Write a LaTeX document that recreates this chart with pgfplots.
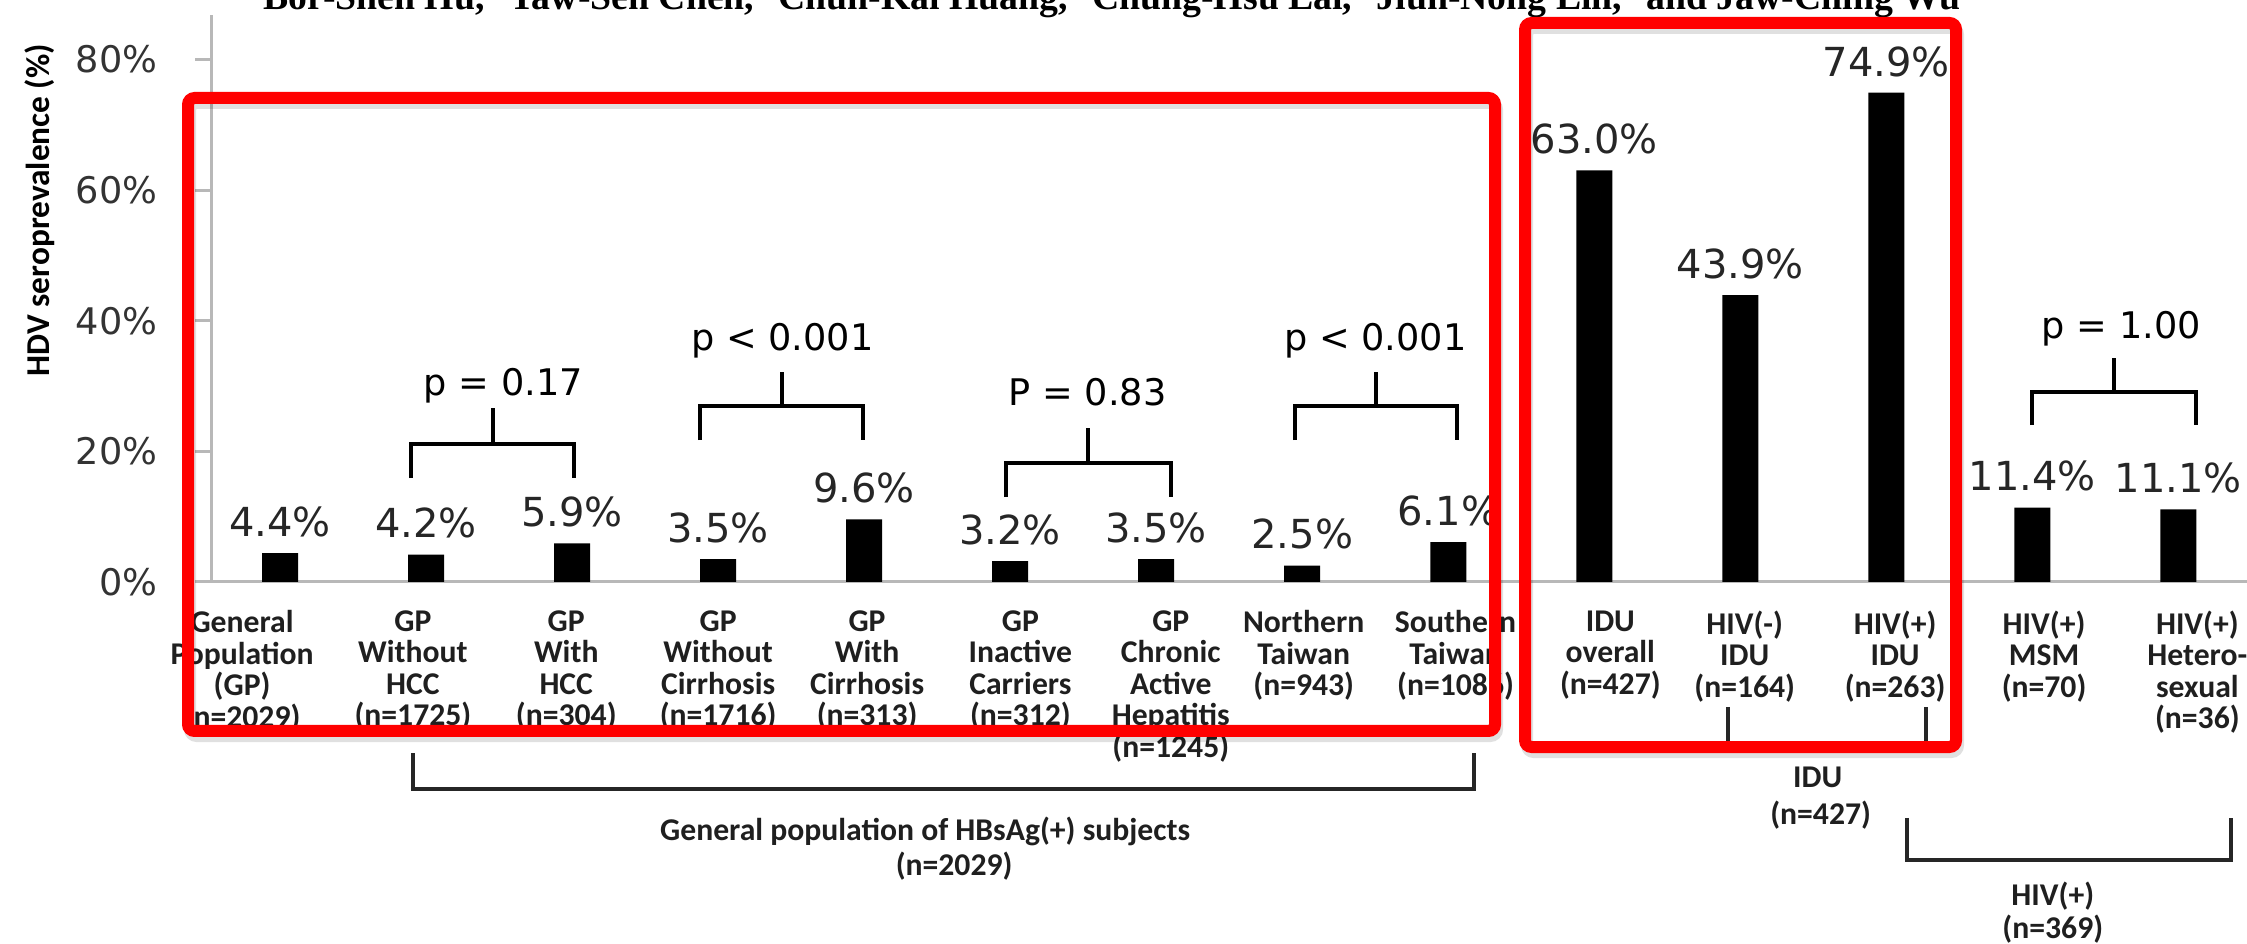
\documentclass[border=0pt]{standalone}
\usepackage{graphicx}
\usepackage{pgfplots}
\pgfplotsset{compat=1.18}
\usepackage{fontspec}
\setmainfont{Carlito}
\newfontfamily\dejavu{DejaVu Sans}
\newfontfamily\serif{Liberation Serif}

\newcommand\catfont{\fontsize{9.5}{9.45}\selectfont\bfseries}
\newcommand\valfont{\dejavu\fontsize{12}{14}\selectfont}
\newcommand\pfont{\dejavu\fontsize{11}{13}\selectfont}
\newcommand\tickfont{\dejavu\fontsize{11}{13}\selectfont}

\begin{document}
\begin{tikzpicture}
% author line running off the top edge
\begin{scope}
\clip (0pt,0pt) rectangle (674.1pt,283.2pt);
\node[anchor=base west, inner sep=0pt] at (78.9pt,280.2pt)
  {\resizebox{509pt}{!}{\serif\bfseries\fontsize{11}{13}\selectfont
   Bor-Shen Hu,\textsuperscript{1}\ Yaw-Sen Chen,\textsuperscript{2}\ Chun-Kai Huang,\textsuperscript{3}\ Chung-Hsu Lai,\textsuperscript{4}\ Jiun-Nong Lin,\textsuperscript{5}\ and Jaw-Ching Wu}};
\end{scope}

\begin{axis}[
  at={(63.6pt,108.6pt)}, anchor=south west,
  scale only axis, width=610.5pt, height=170.1pt,
  xmin=-0.466, xmax=13.47, ymin=0, ymax=86.8,
  ybar, bar width=10.8pt,
  axis x line*=bottom, axis y line*=left,
  axis line style={draw=black!28, line width=0.9pt},
  tick align=outside, major tick length=5pt,
  tick style={draw=black!28, line width=0.9pt},
  /pgf/number format/assume math mode=true,
  ytick={0,20,40,60,80},
  yticklabel={\pgfmathprintnumber{\tick}\%},
  yticklabel style={font=\tickfont, text=black!80, inner sep=0pt, xshift=-11.2pt},
  xtick={-0.26,0.91,1.96,3.0,4.02,5.07,6.10,7.01,8.05,9.11,10.03,11.06,12.08,13.13},
  xtick style={draw=none},
  xticklabels={
    {General\\Population\\(GP)\\(n=2029)},
    {GP\\Without\\HCC\\(n=1725)},
    {GP\\With\\HCC\\(n=304)},
    {GP\\Without\\Cirrhosis\\(n=1716)},
    {GP\\With\\Cirrhosis\\(n=313)},
    {GP\\Inactive\\Carriers\\(n=312)},
    {GP\\Chronic\\Active\\Hepatitis\\(n=1245)},
    {Northern\\Taiwan\\(n=943)},
    {Southern\\Taiwan\\(n=1086)},
    {IDU\\overall\\(n=427)},
    {HIV(-)\\IDU\\(n=164)},
    {HIV(+)\\IDU\\(n=263)},
    {HIV(+)\\MSM\\(n=70)},
    {HIV(+)\\Hetero-\\sexual\\(n=36)}},
  xticklabel style={font=\catfont, text=black!88, align=center, anchor=north, inner sep=0pt, yshift=-3.4pt},
  ylabel={HDV seroprevalence (\%)},
  ylabel style={font=\fontsize{10}{12}\selectfont\bfseries, at={(axis description cs:-0.0845,0.656)}, anchor=center},
  clip=false,
  nodes near coords={\pgfmathprintnumber[fixed,fixed zerofill,precision=1]{\pgfplotspointmeta}\%},
  every node near coord/.append style={font=\valfont, text=black!85, anchor=base, inner sep=0pt, yshift=5pt},
]
\addplot[fill=black, draw=none] coordinates {
  (0,4.4) (1,4.2) (2,5.9) (3,3.5) (4,9.6) (5,3.2) (6,3.5)
  (7,2.5) (8,6.1) (9,63.0) (10,43.9) (11,74.9) (12,11.4) (13,11.1)};

% significance brackets
\begin{scope}[line width=1.2pt, black]
\draw (axis cs:0.897,15.9) -- (axis cs:0.897,21.1) -- (axis cs:2.014,21.1) -- (axis cs:2.014,15.9);
\draw (axis cs:1.455,21.1) -- (axis cs:1.455,26.6);
\draw (axis cs:2.877,21.7) -- (axis cs:2.877,27.0) -- (axis cs:3.993,27.0) -- (axis cs:3.993,21.7);
\draw (axis cs:3.435,27.0) -- (axis cs:3.435,32.2);
\draw (axis cs:4.97,13.0) -- (axis cs:4.97,18.2) -- (axis cs:6.10,18.2) -- (axis cs:6.10,13.0);
\draw (axis cs:5.535,18.2) -- (axis cs:5.535,23.6);
\draw (axis cs:6.95,21.7) -- (axis cs:6.95,27.0) -- (axis cs:8.06,27.0) -- (axis cs:8.06,21.7);
\draw (axis cs:7.505,27.0) -- (axis cs:7.505,32.2);
\draw (axis cs:12.0,24.0) -- (axis cs:12.0,29.1) -- (axis cs:13.12,29.1) -- (axis cs:13.12,24.0);
\draw (axis cs:12.56,29.1) -- (axis cs:12.56,34.3);
\end{scope}
\node[font=\pfont, anchor=base] at (axis cs:1.53,28.6) {p = 0.17};
\node[font=\pfont, anchor=base] at (axis cs:3.44,35.5) {p < 0.001};
\node[font=\pfont, anchor=base] at (axis cs:5.53,27.0) {P = 0.83};
\node[font=\pfont, anchor=base] at (axis cs:7.50,35.5) {p < 0.001};
\node[font=\pfont, anchor=base] at (axis cs:12.61,37.2) {p = 1.00};

% group brackets under the categories
\begin{scope}[line width=1.2pt, black!85]
\draw (axis cs:0.911,-26.2) -- (axis cs:0.911,-31.7) -- (axis cs:8.178,-31.7) -- (axis cs:8.178,-26.2);
\draw (axis cs:9.918,-19.1) -- (axis cs:9.918,-25.3) -- (axis cs:11.274,-25.3) -- (axis cs:11.274,-19.1);
\draw (axis cs:11.14,-36.1) -- (axis cs:11.14,-42.6) -- (axis cs:13.36,-42.6) -- (axis cs:13.36,-36.1);
\end{scope}
\begin{scope}[every node/.style={font=\catfont, text=black!88, anchor=base, inner sep=0pt}]
\node at (axis cs:4.418,-39.5) {General population of HBsAg(+) subjects};
\node at (axis cs:4.616,-44.9) {(n=2029)};
\node at (axis cs:10.53,-31.5) {IDU};
\node at (axis cs:10.55,-37.2) {(n=427)};
\node at (axis cs:12.14,-49.5) {HIV(+)};
\node at (axis cs:12.14,-54.5) {(n=369)};
\end{scope}
\end{axis}

% highlight frames
\begin{scope}[x=0.3pt, y=-0.3pt, shift={(0pt,283.2pt)}]
\draw[black, opacity=0.12, line width=3.6pt, rounded corners=2pt] (190,103) rectangle (1497,736);
\draw[black, opacity=0.12, line width=3.6pt, rounded corners=2pt] (1527,28) rectangle (1958,752);
\draw[red, line width=3.6pt, rounded corners=2pt] (188,98) rectangle (1495,731);
\draw[red, line width=3.6pt, rounded corners=2pt] (1525,23) rectangle (1956,747);
\end{scope}

\pgfresetboundingbox
\useasboundingbox (0pt,0pt) rectangle (674.1pt,283.2pt);
\end{tikzpicture}
\end{document}
